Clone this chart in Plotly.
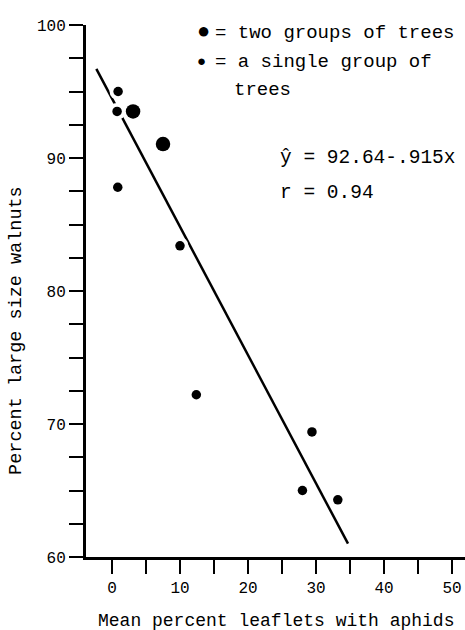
import plotly.graph_objects as go

# data
single_x = [0.9, 0.75, 0.85, 10.0, 12.4, 29.4, 28.0, 33.2]
single_y = [95.0, 93.5, 87.8, 83.4, 72.2, 69.4, 65.0, 64.3]
double_x = [3.1, 7.5]
double_y = [93.5, 91.05]
fit_x = [-2.3, 34.7]
fit_y = [96.7, 61.0]
xticks = [0, 10, 20, 30, 40, 50]
yticks = [60, 70, 80, 90, 100]

FONT = "Liberation Mono"

fig = go.Figure()
fig.add_trace(go.Scatter(x=fit_x, y=fit_y, mode="lines",
                         line=dict(color="black", width=2.5), hoverinfo="skip"))
# white halos (as in the printed figure, line is broken around dots)
fig.add_trace(go.Scatter(x=single_x, y=single_y, mode="markers",
                         marker=dict(color="white", size=17), hoverinfo="skip"))
fig.add_trace(go.Scatter(x=double_x, y=double_y, mode="markers",
                         marker=dict(color="white", size=20), hoverinfo="skip"))
fig.add_trace(go.Scatter(x=single_x, y=single_y, mode="markers",
                         marker=dict(color="black", size=9.5)))
fig.add_trace(go.Scatter(x=double_x, y=double_y, mode="markers",
                         marker=dict(color="black", size=14.5)))

ann = []
def txt(x, y, t, size=19, xanchor="left"):
    ann.append(dict(x=x, y=y, xref="x", yref="y", text=t, showarrow=False,
                    xanchor=xanchor, yanchor="middle",
                    font=dict(family=FONT, size=size, color="black")))

txt(13.5, 99.4, "●", size=22, xanchor="center")
txt(14.9, 99.4, "= two groups of trees")
txt(13.2, 97.2, "●", size=15, xanchor="center")
txt(14.9, 97.2, "= a single group of")
txt(17.6, 95.1, "trees")
txt(24.4, 90.0, "ŷ = 92.64-.915x", size=19.5)
txt(24.4, 87.4, "r = 0.94", size=19.5)

ann.append(dict(x=-0.182, y=77.0, xref="paper", yref="y", text="Percent large size walnuts",
                textangle=-90, showarrow=False, xanchor="center", yanchor="middle",
                font=dict(family=FONT, size=18.5, color="black")))
ann.append(dict(x=0.5, y=-0.12, xref="paper", yref="paper", text="Mean percent leaflets with aphids",
                showarrow=False, xanchor="center", yanchor="middle",
                font=dict(family=FONT, size=18, color="black")))

fig.update_layout(
    width=465, height=630,
    margin=dict(l=86, r=0, t=25, b=73, autoexpand=False),
    paper_bgcolor="white", plot_bgcolor="white",
    showlegend=False,
    annotations=ann,
    xaxis=dict(range=[-3.82, 51.9], tickvals=xticks, ticks="outside", ticklen=14,
               tickwidth=2, tickcolor="black", showline=True, linecolor="black",
               linewidth=3, showgrid=False, zeroline=False, automargin=False,
               tickfont=dict(family=FONT, size=16, color="black"),
               minor=dict(dtick=5, tick0=0, ticks="outside", ticklen=14,
                          tickwidth=2, tickcolor="black", showgrid=False)),
    yaxis=dict(range=[60, 100], tickvals=yticks, ticks="outside", ticklen=14,
               tickwidth=2, tickcolor="black", showline=True, linecolor="black",
               linewidth=3, showgrid=False, zeroline=False, automargin=False,
               tickfont=dict(family=FONT, size=16, color="black"),
               minor=dict(dtick=2.5, tick0=60, ticks="outside", ticklen=14,
                          tickwidth=2, tickcolor="black", showgrid=False)),
)

fig.write_html("out.html", config={"displayModeBar": False},
               post_script="document.body.style.margin='0';document.body.style.overflow='hidden';")
